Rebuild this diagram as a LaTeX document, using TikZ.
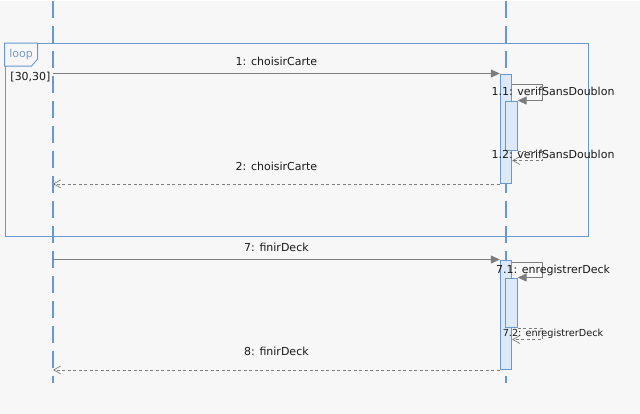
\documentclass[tikz,border=0pt]{standalone}
\usepackage{fontspec}
\setmainfont{DejaVu Sans}
\usepackage{xcolor}
\usepackage{tikz}
\usetikzlibrary{arrows.meta,positioning}
\definecolor{lifeblue}{RGB}{105,152,208}
\definecolor{actfill}{RGB}{221,233,248}
\definecolor{msggray}{RGB}{125,125,125}
\definecolor{bgcol}{RGB}{247,247,247}
\definecolor{txtdark}{RGB}{25,25,25}

\begin{document}
\begin{tikzpicture}[x=1pt, y=-1pt, every node/.style={font=\fontsize{11}{13}\selectfont, text=txtdark, inner sep=3pt, text height=8pt, text depth=2pt},
		lifeline/.style={draw=lifeblue, line width=1.05pt, dash pattern=on 17pt off 8pt},
		actbar/.style={draw=lifeblue, fill=actfill, line width=0.8pt, minimum width=11.5pt, inner sep=0pt},
		call/.style={draw=msggray, line width=0.9pt, -{Triangle[length=9pt, width=8pt]}},
		ret/.style={draw=msggray, line width=0.7pt, dash pattern=on 3pt off 2.5pt, -{Straight Barb[length=7pt, width=8pt]}}]
		\fill[bgcol] (0,0) rectangle (640,413);
		% lifelines
		\coordinate (userTop) at (53,0);
		\coordinate (userEnd) at (53,382);
		\coordinate (deckTop) at (506,0);
		\coordinate (deckEnd) at (506,382);
		\draw[lifeline] (userTop) -- (userEnd);
		\draw[lifeline] (deckTop) -- (deckEnd);
		% loop frame
		\node[draw=lifeblue, line width=0.9pt, minimum width=583pt, minimum height=193pt, inner sep=0pt] (loopfrm) at (296.5,139.5) {};
		\draw[draw=lifeblue, line width=0.9pt, fill=bgcol] (loopfrm.north west) -- ++(33,0) -- ++(0,16) -- ++(-6,7) -- ++(-27,0) -- cycle;
		\node[text={rgb,255:red,120;green,158;blue,200}] (looptag) at (21,54) {loop};
		\node (guard) at (30.5,77) {[30,30]};
		% activation bars
		\node[actbar, minimum height=109pt] (act1) at (506,128.5) {};
		\node[actbar, minimum height=49pt] (nest1) at (511.5,125.5) {};
		\node[actbar, minimum height=109pt] (act2) at (506,314.5) {};
		\node[actbar, minimum height=49pt] (nest2) at (511.5,302.5) {};
		% first block
		\coordinate (y1) at (0,73);
		\coordinate (y11) at (0,84);
		\coordinate (y11r) at (0,100);
		\coordinate (y12r) at (0,160);
		\draw[call] (userTop |- y1) -- (act1.west |- y1) node[midway, above=3pt] {1: choisirCarte};
		\draw[call] (act1.east |- y11) -- ++(30,0) |- (nest1.east |- y11r);
		\draw[ret] (nest1.south east) -- ++(25,0) |- (act1.east |- y12r);
		\node (l11) at (553,92) {1.1: verifSansDoublon};
		\node (l12) at (553,155) {1.2: verifSansDoublon};
		\draw[ret] (act1.south west) -- (act1.south west -| userTop) node[midway, above=8pt] {2: choisirCarte};
		% second block
		\coordinate (y7) at (0,259);
		\coordinate (y71) at (0,262);
		\coordinate (y71r) at (0,277);
		\coordinate (y72r) at (0,339);
		\draw[call] (userTop |- y7) -- (act2.west |- y7) node[midway, above=3pt] {7: finirDeck};
		\draw[call] (act2.east |- y71) -- ++(30,0) |- (nest2.east |- y71r);
		\draw[ret] (nest2.south east) -- ++(25,0) |- (act2.east |- y72r);
		\node (l71) at (553,270) {7.1: enregistrerDeck};
		\node[font=\fontsize{9.7}{11}\selectfont] (l72) at (553,333) {7.2: enregistrerDeck};
		\draw[ret] (act2.south west) -- (act2.south west -| userTop) node[midway, above=9pt] {8: finirDeck};
	\end{tikzpicture}
\end{document}
